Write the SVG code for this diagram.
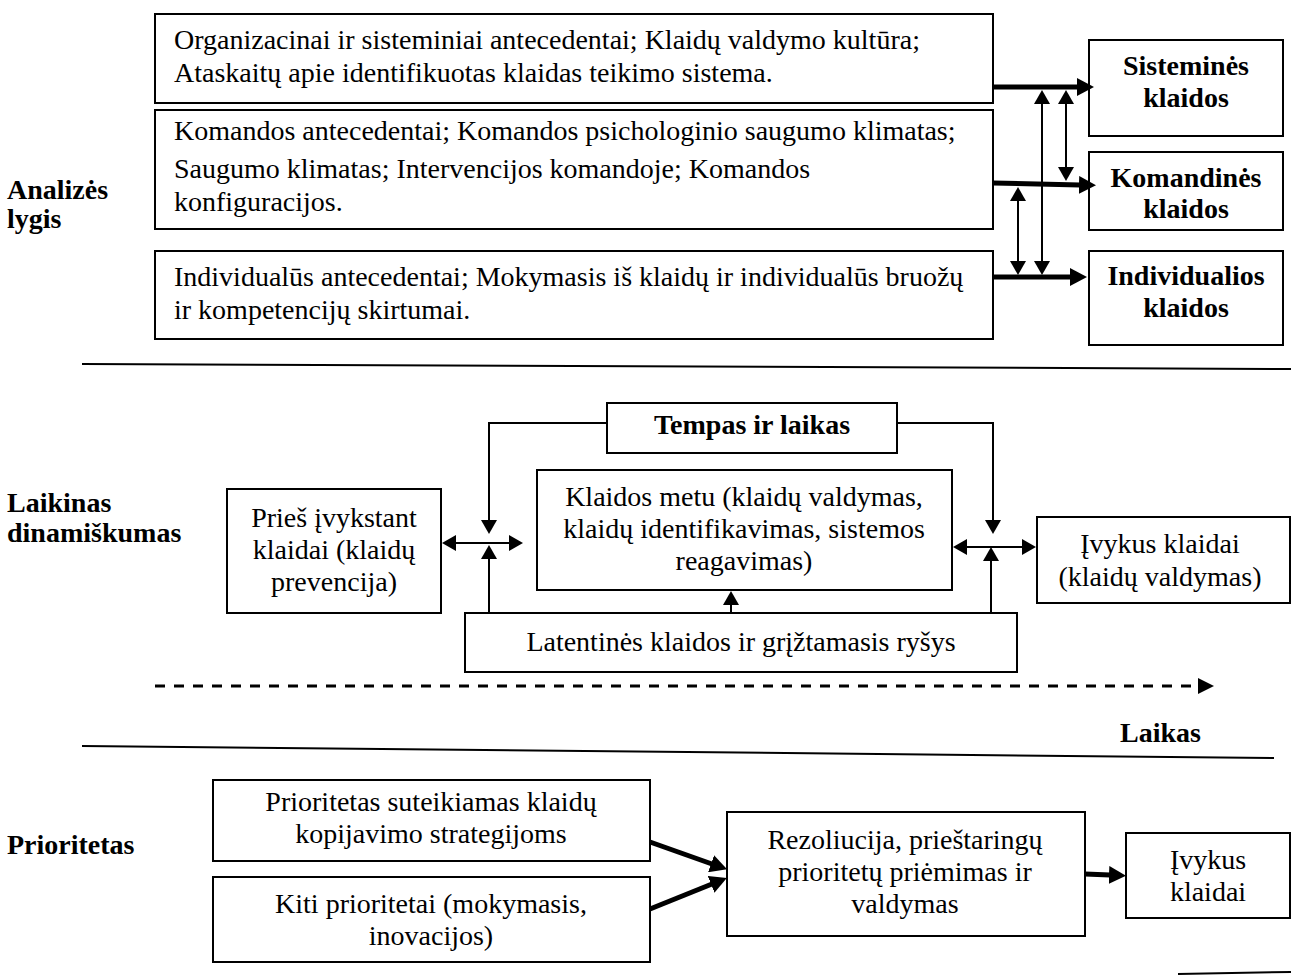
<svg xmlns="http://www.w3.org/2000/svg" width="1291" height="975" viewBox="0 0 1291 975">
  <style>
    .box { fill: #fff; stroke: #000; stroke-width: 2; }
    .t { font-family: "Liberation Serif", "Times New Roman", serif; font-size: 28px; fill: #000; }
    .c { text-anchor: middle; }
    .b { font-weight: bold; }
    .thick { fill: none; stroke: #000; stroke-width: 5; }
    .thin { fill: none; stroke: #000; stroke-width: 2; }
    .sep { fill: none; stroke: #000; stroke-width: 2; }
  </style>
  <defs>
    <marker id="headThick" markerUnits="userSpaceOnUse" viewBox="0 0 17 18" markerWidth="17" markerHeight="18" refX="1" refY="9" orient="auto">
      <path d="M0,0 L17,9 L0,18 z" fill="#000"/>
    </marker>
    <marker id="headThin" markerUnits="userSpaceOnUse" viewBox="0 0 14 16" markerWidth="14" markerHeight="16" refX="1" refY="8" orient="auto-start-reverse">
      <path d="M0,0 L14,8 L0,16 z" fill="#000"/>
    </marker>
    <marker id="headDash" markerUnits="userSpaceOnUse" viewBox="0 0 16 16" markerWidth="16" markerHeight="16" refX="0" refY="8" orient="auto">
      <path d="M0,0 L16,8 L0,16 z" fill="#000"/>
    </marker>
  </defs>

  <!-- section labels -->
  <g id="label-analize">
    <text class="t b" x="7" y="199">Analizės</text>
    <text class="t b" x="7" y="228">lygis</text>
  </g>
  <g id="label-laikinas">
    <text class="t b" x="7" y="512">Laikinas</text>
    <text class="t b" x="7" y="542">dinamiškumas</text>
  </g>
  <g id="label-prioritetas">
    <text class="t b" x="7" y="854">Prioritetas</text>
  </g>
  <g id="label-laikas">
    <text class="t b" x="1120" y="742">Laikas</text>
  </g>

  <!-- section separators -->
  <g id="separators">
    <line class="sep" x1="82" y1="364" x2="1291" y2="369"/>
    <line class="sep" x1="82" y1="746" x2="1274" y2="758"/>
    <line class="sep" x1="1178" y1="974" x2="1291" y2="972"/>
  </g>

  <!-- analysis level -->
  <g id="n-organizacinai">
    <rect class="box" x="155" y="14" width="838" height="89"/>
    <text class="t" x="174" y="49">Organizacinai ir sisteminiai antecedentai; Klaidų valdymo kultūra;</text>
    <text class="t" x="174" y="82">Ataskaitų apie identifikuotas klaidas teikimo sistema.</text>
  </g>
  <g id="n-komandos">
    <rect class="box" x="155" y="110" width="838" height="119"/>
    <text class="t" x="174" y="140">Komandos antecedentai; Komandos psichologinio saugumo klimatas;</text>
    <text class="t" x="174" y="178">Saugumo klimatas; Intervencijos komandoje; Komandos</text>
    <text class="t" x="174" y="211">konfiguracijos.</text>
  </g>
  <g id="n-individualus">
    <rect class="box" x="155" y="251" width="838" height="88"/>
    <text class="t" x="174" y="286">Individualūs antecedentai; Mokymasis iš klaidų ir individualūs bruožų</text>
    <text class="t" x="174" y="319">ir kompetencijų skirtumai.</text>
  </g>
  <g id="n-sistemines">
    <rect class="box" x="1089" y="40" width="194" height="96"/>
    <text class="t b c" x="1186" y="75">Sisteminės</text>
    <text class="t b c" x="1186" y="107">klaidos</text>
  </g>
  <g id="n-komandines">
    <rect class="box" x="1089" y="152" width="194" height="78"/>
    <text class="t b c" x="1186" y="187">Komandinės</text>
    <text class="t b c" x="1186" y="218">klaidos</text>
  </g>
  <g id="n-individualios">
    <rect class="box" x="1089" y="251" width="194" height="94"/>
    <text class="t b c" x="1186" y="285">Individualios</text>
    <text class="t b c" x="1186" y="317">klaidos</text>
  </g>

  <!-- temporal dynamics -->
  <g id="n-tempas">
    <rect class="box" x="607" y="403" width="290" height="50"/>
    <text class="t b c" x="752" y="434">Tempas ir laikas</text>
  </g>
  <g id="n-pries">
    <rect class="box" x="227" y="489" width="214" height="124"/>
    <text class="t c" x="334" y="527">Prieš įvykstant</text>
    <text class="t c" x="334" y="559">klaidai (klaidų</text>
    <text class="t c" x="334" y="591">prevencija)</text>
  </g>
  <g id="n-metu">
    <rect class="box" x="537" y="470" width="415" height="120"/>
    <text class="t c" x="744" y="506">Klaidos metu (klaidų valdymas,</text>
    <text class="t c" x="744" y="538">klaidų identifikavimas, sistemos</text>
    <text class="t c" x="744" y="570">reagavimas)</text>
  </g>
  <g id="n-ivykus-valdymas">
    <rect class="box" x="1037" y="517" width="253" height="86"/>
    <text class="t c" x="1160" y="553">Įvykus klaidai</text>
    <text class="t c" x="1160" y="586">(klaidų valdymas)</text>
  </g>
  <g id="n-latentines">
    <rect class="box" x="465" y="613" width="552" height="59"/>
    <text class="t c" x="741" y="651">Latentinės klaidos ir grįžtamasis ryšys</text>
  </g>

  <!-- priority -->
  <g id="n-kopijavimo">
    <rect class="box" x="213" y="780" width="437" height="81"/>
    <text class="t c" x="431" y="811">Prioritetas suteikiamas klaidų</text>
    <text class="t c" x="431" y="843">kopijavimo strategijoms</text>
  </g>
  <g id="n-kiti">
    <rect class="box" x="213" y="877" width="437" height="85"/>
    <text class="t c" x="431" y="913">Kiti prioritetai (mokymasis,</text>
    <text class="t c" x="431" y="945">inovacijos)</text>
  </g>
  <g id="n-rezoliucija">
    <rect class="box" x="727" y="812" width="358" height="124"/>
    <text class="t c" x="905" y="849">Rezoliucija, prieštaringų</text>
    <text class="t c" x="905" y="881">prioritetų priėmimas ir</text>
    <text class="t c" x="905" y="913">valdymas</text>
  </g>
  <g id="n-ivykus">
    <rect class="box" x="1126" y="833" width="164" height="85"/>
    <text class="t c" x="1208" y="869">Įvykus</text>
    <text class="t c" x="1208" y="901">klaidai</text>
  </g>

  <!-- connectors -->
  <g id="connectors">
    <!-- analysis level: thick flows to error types -->
    <path class="thick" d="M993,87 L1078,87" marker-end="url(#headThick)"/>
    <path class="thick" d="M993,183 L1080,185" marker-end="url(#headThick)"/>
    <path class="thick" d="M993,277 L1071,277" marker-end="url(#headThick)"/>
    <!-- links between levels -->
    <path class="thin" d="M1042,103 L1042,262" marker-start="url(#headThin)" marker-end="url(#headThin)"/>
    <path class="thin" d="M1066,103 L1066,168" marker-start="url(#headThin)" marker-end="url(#headThin)"/>
    <path class="thin" d="M1018,200 L1018,262" marker-start="url(#headThin)" marker-end="url(#headThin)"/>

    <!-- temporal dynamics -->
    <path class="thin" d="M607,423 H489 V521" marker-end="url(#headThin)"/>
    <path class="thin" d="M455,543 H510" marker-start="url(#headThin)" marker-end="url(#headThin)"/>
    <path class="thin" d="M489,613 V558" marker-end="url(#headThin)"/>
    <path class="thin" d="M897,423 H993 V521" marker-end="url(#headThin)"/>
    <path class="thin" d="M966,547 H1023" marker-start="url(#headThin)" marker-end="url(#headThin)"/>
    <path class="thin" d="M991,613 V560" marker-end="url(#headThin)"/>
    <path class="thin" d="M731,613 V604" marker-end="url(#headThin)"/>

    <!-- time axis -->
    <path fill="none" stroke="#000" stroke-width="3" stroke-dasharray="10 9" d="M155,686 H1198"/>
    <path d="M1198,678 L1214,686 L1198,694 z" fill="#000"/>

    <!-- priority flows -->
    <path class="thick" d="M650,842 L712,864" marker-end="url(#headThick)"/>
    <path class="thick" d="M650,909 L712,884" marker-end="url(#headThick)"/>
    <path class="thick" d="M1085,874 L1110,875" marker-end="url(#headThick)"/>
  </g>
</svg>
